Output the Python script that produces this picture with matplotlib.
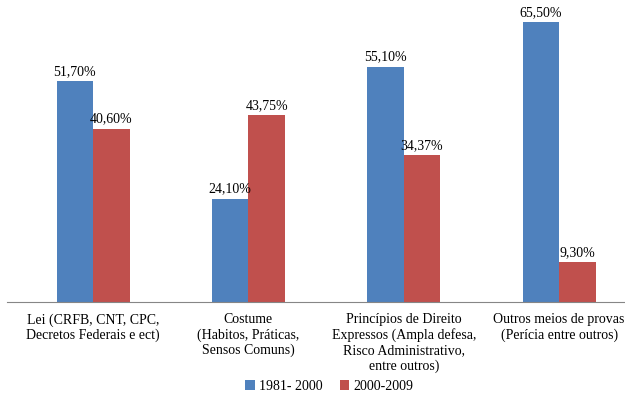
import matplotlib.pyplot as plt
import numpy as np

categories = [
    "Lei (CRFB, CNT, CPC,\nDecretos Federais e ect)",
    "Costume\n(Habitos, Práticas,\nSensos Comuns)",
    "Princípios de Direito\nExpressos (Ampla defesa,\nRisco Administrativo,\nentre outros)",
    "Outros meios de provas\n(Perícia entre outros)",
]
series_1981 = [51.70, 24.10, 55.10, 65.50]
series_2000 = [40.60, 43.75, 34.37, 9.30]
series_names = ["1981- 2000", "2000-2009"]

plt.rcParams['font.family'] = ['Liberation Serif', 'DejaVu Serif']

fig = plt.figure(figsize=(6.25, 3.98), dpi=100)
ax = fig.add_axes([7 / 625, 1 - 302 / 398, 617 / 625, 299 / 398])

x = np.arange(len(categories))
w = 0.235
b1 = ax.bar(x - w / 2, series_1981, w, color="#4F81BD", label=series_names[0])
b2 = ax.bar(x + w / 2, series_2000, w, color="#C0504D", label=series_names[1])

for bars, vals in ((b1, series_1981), (b2, series_2000)):
    for r, v in zip(bars, vals):
        ax.text(r.get_x() + r.get_width() / 2, v + 0.8, f"{v:.2f}%".replace(".", ","),
                ha="center", va="bottom", fontsize=10)

ax.set_xlim(-0.554, 3.418)
ax.set_ylim(0, 70)
ax.set_yticks([])
ax.set_xticks(x)
ax.set_xticklabels(categories, fontsize=10, linespacing=1.2)
ax.tick_params(axis="x", length=0, pad=8)
for s in ("top", "right", "left"):
    ax.spines[s].set_visible(False)
ax.spines["bottom"].set_color("#868686")

fig.legend(loc="center", bbox_to_anchor=(0.527, 0.03), ncol=2, frameon=False,
           fontsize=10, handlelength=0.7, handleheight=0.7, handletextpad=0.3,
           columnspacing=1.2)

fig.savefig("out.png", dpi=100)
